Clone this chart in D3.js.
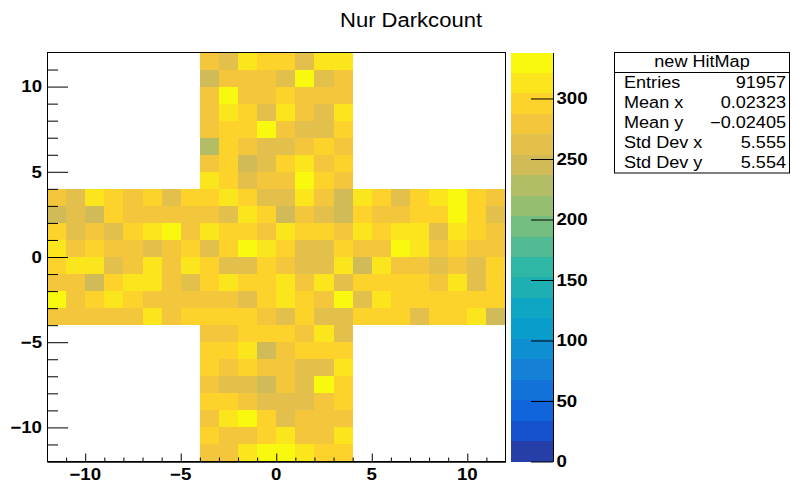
<!DOCTYPE html>
<html>
<head>
<meta charset="utf-8">
<script src="https://cdn.jsdelivr.net/npm/d3@7"></script>
<style>
body { margin: 0; background: #fff; }
text { font-family: "Liberation Sans", Arial, Helvetica, sans-serif; fill: #000; }
</style>
</head>
<body>
<div id="chart"></div>
<script>

var title = "Nur Darkcount";
var binLow = -12, binHigh = 12;
var armLow = -4, armHigh = 4;
var zMax = 338;
var nContours = 20;

// bin counts, each row runs left to right, rows go from top (high y) down
// upper arm: x -4..4, y 12 down to 4
var topArm = [
    [279, 262, 313, 296, 296, 262, 313, 313],
    [245, 279, 279, 279, 262, 330, 262, 279],
    [279, 330, 279, 279, 296, 279, 279, 279],
    [279, 313, 296, 262, 313, 279, 262, 313],
    [279, 296, 296, 330, 279, 262, 262, 296],
    [228, 296, 279, 262, 262, 279, 296, 279],
    [279, 296, 245, 262, 296, 313, 279, 296],
    [313, 296, 262, 279, 279, 330, 296, 279]
];

// horizontal band: x -12..12, y 4 down to -4
var middleBand = [
    [279, 262, 313, 296, 279, 296, 262, 296, 296, 313, 296, 262, 262, 313, 279, 245, 313, 296, 262, 296, 313, 330, 296, 279],
    [245, 262, 245, 296, 279, 279, 279, 279, 279, 262, 313, 296, 245, 279, 262, 245, 296, 279, 279, 296, 296, 330, 296, 262],
    [296, 262, 279, 262, 296, 313, 330, 279, 313, 296, 296, 279, 313, 296, 296, 279, 313, 296, 313, 313, 262, 313, 296, 279],
    [313, 279, 296, 279, 279, 262, 279, 296, 262, 296, 330, 313, 296, 262, 262, 296, 279, 279, 330, 313, 279, 296, 279, 279],
    [296, 313, 313, 262, 279, 313, 279, 313, 296, 262, 262, 296, 279, 262, 262, 313, 245, 313, 279, 279, 262, 279, 262, 296],
    [279, 279, 245, 296, 313, 313, 279, 262, 296, 313, 296, 296, 313, 279, 313, 262, 296, 296, 296, 296, 279, 313, 262, 296],
    [330, 279, 296, 313, 296, 279, 279, 279, 279, 279, 262, 296, 313, 296, 279, 330, 262, 313, 296, 296, 296, 296, 296, 296],
    [279, 279, 279, 279, 279, 313, 279, 296, 296, 296, 296, 279, 262, 296, 262, 262, 296, 296, 296, 262, 296, 296, 313, 245]
];

// lower arm: x -4..4, y -4 down to -12
var bottomArm = [
    [279, 279, 296, 296, 296, 279, 313, 262],
    [296, 296, 313, 245, 279, 296, 296, 296],
    [296, 279, 296, 279, 279, 262, 262, 313],
    [279, 262, 262, 245, 279, 262, 330, 296],
    [296, 296, 279, 262, 262, 262, 279, 296],
    [279, 313, 330, 296, 262, 279, 279, 279],
    [296, 279, 279, 296, 313, 279, 279, 313],
    [279, 279, 313, 330, 330, 313, 296, 296]
];

var xMajorTicks = [-10, -5, 0, 5, 10];
var xMinorTicks = [-11, -9, -8, -7, -6, -4, -3, -2, -1, 1, 2, 3, 4, 6, 7, 8, 9, 11];
var yMajorTicks = [-10, -5, 0, 5, 10];
var yMinorTicks = [-11, -9, -8, -7, -6, -4, -3, -2, -1, 1, 2, 3, 4, 6, 7, 8, 9, 11];
var zTicks = [0, 50, 100, 150, 200, 250, 300];

var statsTitle = "new HitMap";
var statsLabels = ["Entries", "Mean x", "Mean y", "Std Dev x", "Std Dev y"];
var statsValues = ["91957", "0.02323", "\u22120.02405", "5.555", "5.554"];

// ROOT kBird palette
var birdStops = [0.0000, 0.1250, 0.2500, 0.3750, 0.5000, 0.6250, 0.7500, 0.8750, 1.0000];
var birdRed = [0.2082, 0.0592, 0.0780, 0.0232, 0.1802, 0.5301, 0.8186, 0.9956, 0.9764];
var birdGreen = [0.1664, 0.3599, 0.5041, 0.6419, 0.7178, 0.7492, 0.7328, 0.7862, 0.9832];
var birdBlue = [0.5293, 0.8684, 0.8385, 0.7914, 0.6425, 0.4662, 0.3499, 0.1968, 0.0539];

var svgWidth = 792;
var svgHeight = 483;
var frame = { left: 47, right: 505.5, top: 52.5, bottom: 461.5 };
var bar = { left: 511, right: 553 };
var stretch = 1.13;

var svg = d3.select("#chart")
    .append("svg")
    .attr("width", svgWidth)
    .attr("height", svgHeight);

var xScale = d3.scaleLinear().domain([binLow, binHigh]).range([frame.left, frame.right]);
var yScale = d3.scaleLinear().domain([binLow, binHigh]).range([frame.bottom, frame.top]);
var zScale = d3.scaleLinear().domain([0, zMax]).range([frame.bottom, frame.top]);

function makePalette(n) {
    var colors = [];
    for (var g = 1; g < birdStops.length; g++) {
        var nGrad = Math.floor(n * birdStops[g]) - Math.floor(n * birdStops[g - 1]);
        for (var c = 0; c < nGrad; c++) {
            var r = birdRed[g - 1] + c * (birdRed[g] - birdRed[g - 1]) / nGrad;
            var gr = birdGreen[g - 1] + c * (birdGreen[g] - birdGreen[g - 1]) / nGrad;
            var b = birdBlue[g - 1] + c * (birdBlue[g] - birdBlue[g - 1]) / nGrad;
            colors.push(d3.rgb(r * 255, gr * 255, b * 255).formatHex());
        }
    }
    return colors;
}
var palette = makePalette(255);

function levelColor(level) {
    return palette[Math.floor((level + 0.99) * palette.length / nContours)];
}

function valueColor(v) {
    var level = Math.floor(0.01 + v * nContours / zMax);
    return levelColor(Math.min(level, nContours - 1));
}

// flatten the three blocks into bins {x, y, v} (x, y = lower edges)
var bins = [];
topArm.forEach((row, r) => row.forEach((v, c) => bins.push({ x: armLow + c, y: 11 - r, v: v })));
middleBand.forEach((row, r) => row.forEach((v, c) => bins.push({ x: binLow + c, y: armHigh - 1 - r, v: v })));
bottomArm.forEach((row, r) => row.forEach((v, c) => bins.push({ x: armLow + c, y: armLow - 1 - r, v: v })));

svg.append("g")
    .selectAll("rect")
    .data(bins)
    .enter()
    .append("rect")
    .attr("x", d => xScale(d.x))
    .attr("y", d => yScale(d.y + 1))
    .attr("width", d => xScale(d.x + 1) - xScale(d.x))
    .attr("height", d => yScale(d.y) - yScale(d.y + 1))
    .attr("fill", d => valueColor(d.v))
    .attr("shape-rendering", "crispEdges");

// frame
svg.append("rect")
    .attr("x", frame.left + 0.5)
    .attr("y", frame.top)
    .attr("width", frame.right - frame.left - 0.5)
    .attr("height", frame.bottom - frame.top)
    .attr("fill", "none")
    .attr("stroke", "#000")
    .attr("stroke-width", 1);

// ROOT output looks horizontally stretched, so stretch the text too
function stretchText(g, x, y, str, size, anchor, weight) {
    return g.append("text")
        .attr("transform", `translate(${x},${y}) scale(${stretch},1)`)
        .attr("text-anchor", anchor)
        .attr("font-size", size)
        .attr("font-weight", weight || "normal")
        .text(str);
}

function fmt(v) {
    return v < 0 ? "\u2212" + Math.abs(v) : String(v);
}

// x axis
svg.append("g")
    .attr("transform", `translate(0, ${frame.bottom})`)
    .call(d3.axisBottom(xScale).tickValues(xMinorTicks).tickSize(-4).tickSizeOuter(0).tickFormat(""));
svg.append("g")
    .attr("transform", `translate(0, ${frame.bottom})`)
    .call(d3.axisBottom(xScale).tickValues(xMajorTicks).tickSize(-8).tickSizeOuter(0).tickFormat(""));

// y axis
svg.append("g")
    .attr("transform", `translate(${frame.left}, 0)`)
    .call(d3.axisLeft(yScale).tickValues(yMinorTicks).tickSize(-11).tickSizeOuter(0).tickFormat(""));
svg.append("g")
    .attr("transform", `translate(${frame.left}, 0)`)
    .call(d3.axisLeft(yScale).tickValues(yMajorTicks).tickSize(-21).tickSizeOuter(0).tickFormat(""));

svg.selectAll(".tick line").attr("stroke", "#000");
svg.selectAll(".domain").attr("stroke", "#000");

var labels = svg.append("g");
xMajorTicks.forEach(t => stretchText(labels, xScale(t), 479.5, fmt(t), 16.5, "middle", "bold"));
yMajorTicks.forEach(t => stretchText(labels, 42, yScale(t) + 5.8, fmt(t), 16.5, "end", "bold"));

// colour bar
var levels = d3.range(nContours);
svg.append("g")
    .selectAll("rect")
    .data(levels)
    .enter()
    .append("rect")
    .attr("x", bar.left)
    .attr("width", bar.right - bar.left)
    .attr("y", d => zScale((d + 1) * zMax / nContours))
    .attr("height", d => zScale(d * zMax / nContours) - zScale((d + 1) * zMax / nContours))
    .attr("fill", d => levelColor(d))
    .attr("shape-rendering", "crispEdges");

var zAxis = svg.append("g")
    .attr("transform", `translate(${bar.right}, 0)`)
    .call(d3.axisRight(zScale).tickValues(zTicks).tickSize(-22).tickSizeOuter(0).tickFormat(""));
zAxis.selectAll("line").attr("stroke", "#000");
zAxis.select(".domain").attr("stroke", "#000");
zTicks.forEach(t => stretchText(labels, 556.5, zScale(t) + 5.8, String(t), 16.5, "start", "bold"));

// title
stretchText(svg, 411, 26.7, title, 19.5, "middle");

// stats box
var stats = svg.append("g");
stats.append("rect")
    .attr("x", 614.5)
    .attr("y", 52.5)
    .attr("width", 175)
    .attr("height", 120.5)
    .attr("fill", "#fff")
    .attr("stroke", "#000");
stats.append("line")
    .attr("x1", 614.5).attr("x2", 789.5)
    .attr("y1", 72.5).attr("y2", 72.5)
    .attr("stroke", "#000");
stretchText(stats, 702, 66.7, statsTitle, 16, "middle");
statsLabels.forEach((s, i) => {
    stretchText(stats, 624, 88.3 + i * 19.8, s, 16, "start");
    stretchText(stats, 786, 88.3 + i * 19.8, statsValues[i], 16, "end");
});

</script>
</body>
</html>
